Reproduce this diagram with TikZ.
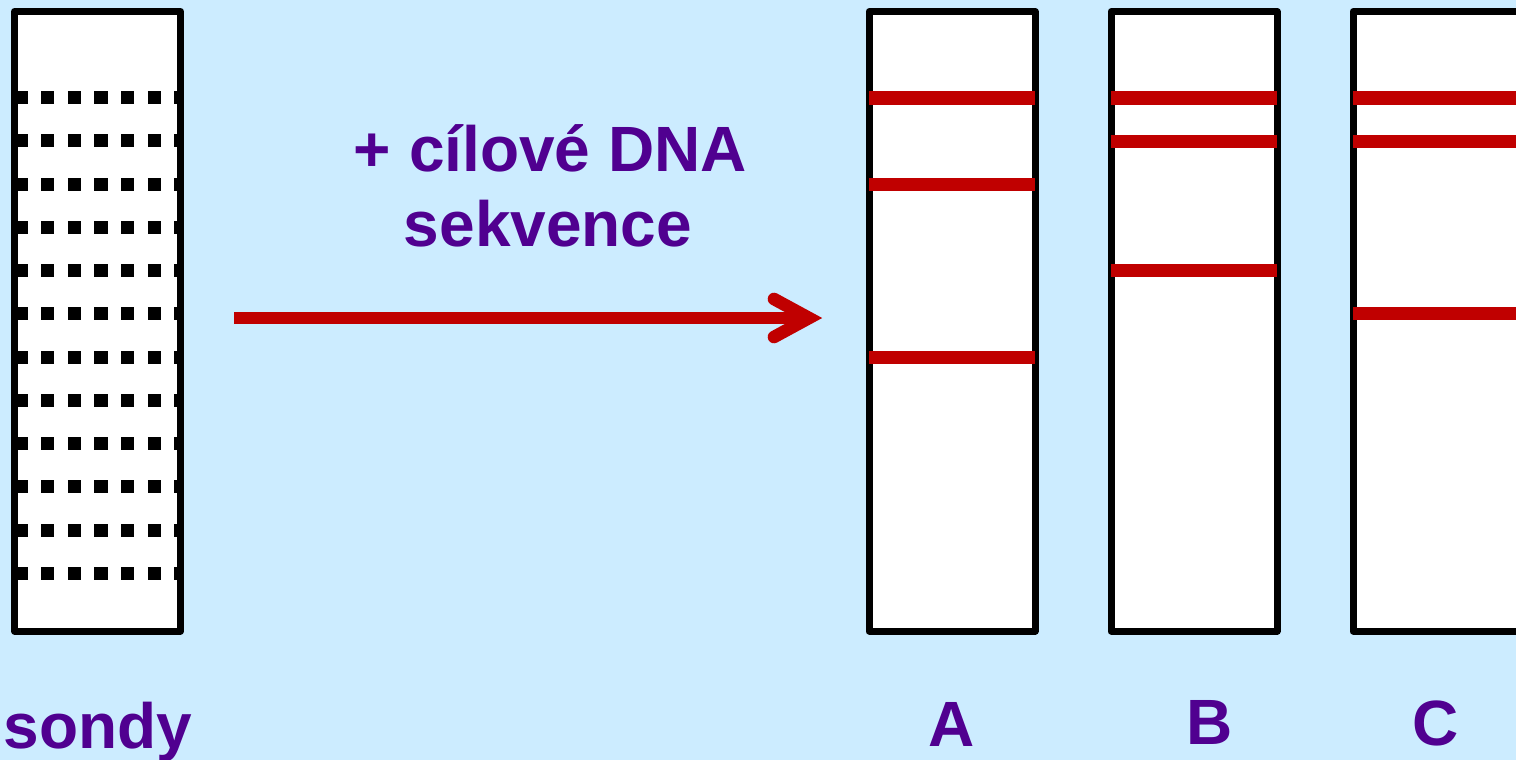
\documentclass[tikz,border=0pt]{standalone}
\usepackage{fontspec}
\setmainfont{Liberation Sans}
\definecolor{bg}{RGB}{204,236,255}
\definecolor{band}{RGB}{192,0,0}
\definecolor{txt}{RGB}{80,0,144}
\begin{document}
\begin{tikzpicture}[x=1pt,y=-1pt,
  strip/.style={draw=black,fill=white,line width=7pt,line join=round},
  probe/.style={line width=13pt,dash pattern=on 13.33pt off 13.33pt},
  bandline/.style={draw=band,line width=13pt},
  lbl/.style={text=txt,font=\fontsize{64}{70}\selectfont\bfseries,inner sep=0pt,anchor=base}]
\useasboundingbox (0,0) rectangle (1516,760);
\clip (0,0) rectangle (1516,760);
\fill[bg] (0,0) rectangle (1516,760);
% probe strip
\draw[strip] (14.5,11.5) rectangle (180.5,631);
\foreach \i in {0,...,11}{
  \draw[probe] (14.5,{97.7+43.24*\i}) -- (180.5,{97.7+43.24*\i});
}
% target strips
\foreach \nm/\x in {A/869,B/1111,C/1353}{
  \draw[strip] (\x,11.5) rectangle ({\x+166},631);
}
\foreach \y in {98,184,357}{\draw[bandline] (869,\y) -- (1035,\y);}
\foreach \y in {98,141,270}{\draw[bandline] (1111,\y) -- (1277,\y);}
\foreach \y in {98,141,313}{\draw[bandline] (1353,\y) -- (1519,\y);}
% arrow
\coordinate (arrS) at (234,318);
\coordinate (arrT) at (809,318);
\coordinate (barbU) at (774,299);
\coordinate (barbL) at (774,337);
\draw[band,line width=12.6pt] (arrS) -- (arrT);
\draw[band,line width=12.6pt,line cap=round,line join=miter] (barbU) -- (arrT) -- (barbL);
% texts
\node[lbl] (t1) at (550.5,171) {+ cílové DNA};
\node[lbl] (t2) at (548,246) {sekvence};
\node[lbl] (ls) at (98,748) {sondy};
\node[lbl] (la) at (952,746) {A};
\node[lbl] (lb) at (1210,744) {B};
\node[lbl] (lc) at (1436,745) {C};
\end{tikzpicture}
\end{document}
